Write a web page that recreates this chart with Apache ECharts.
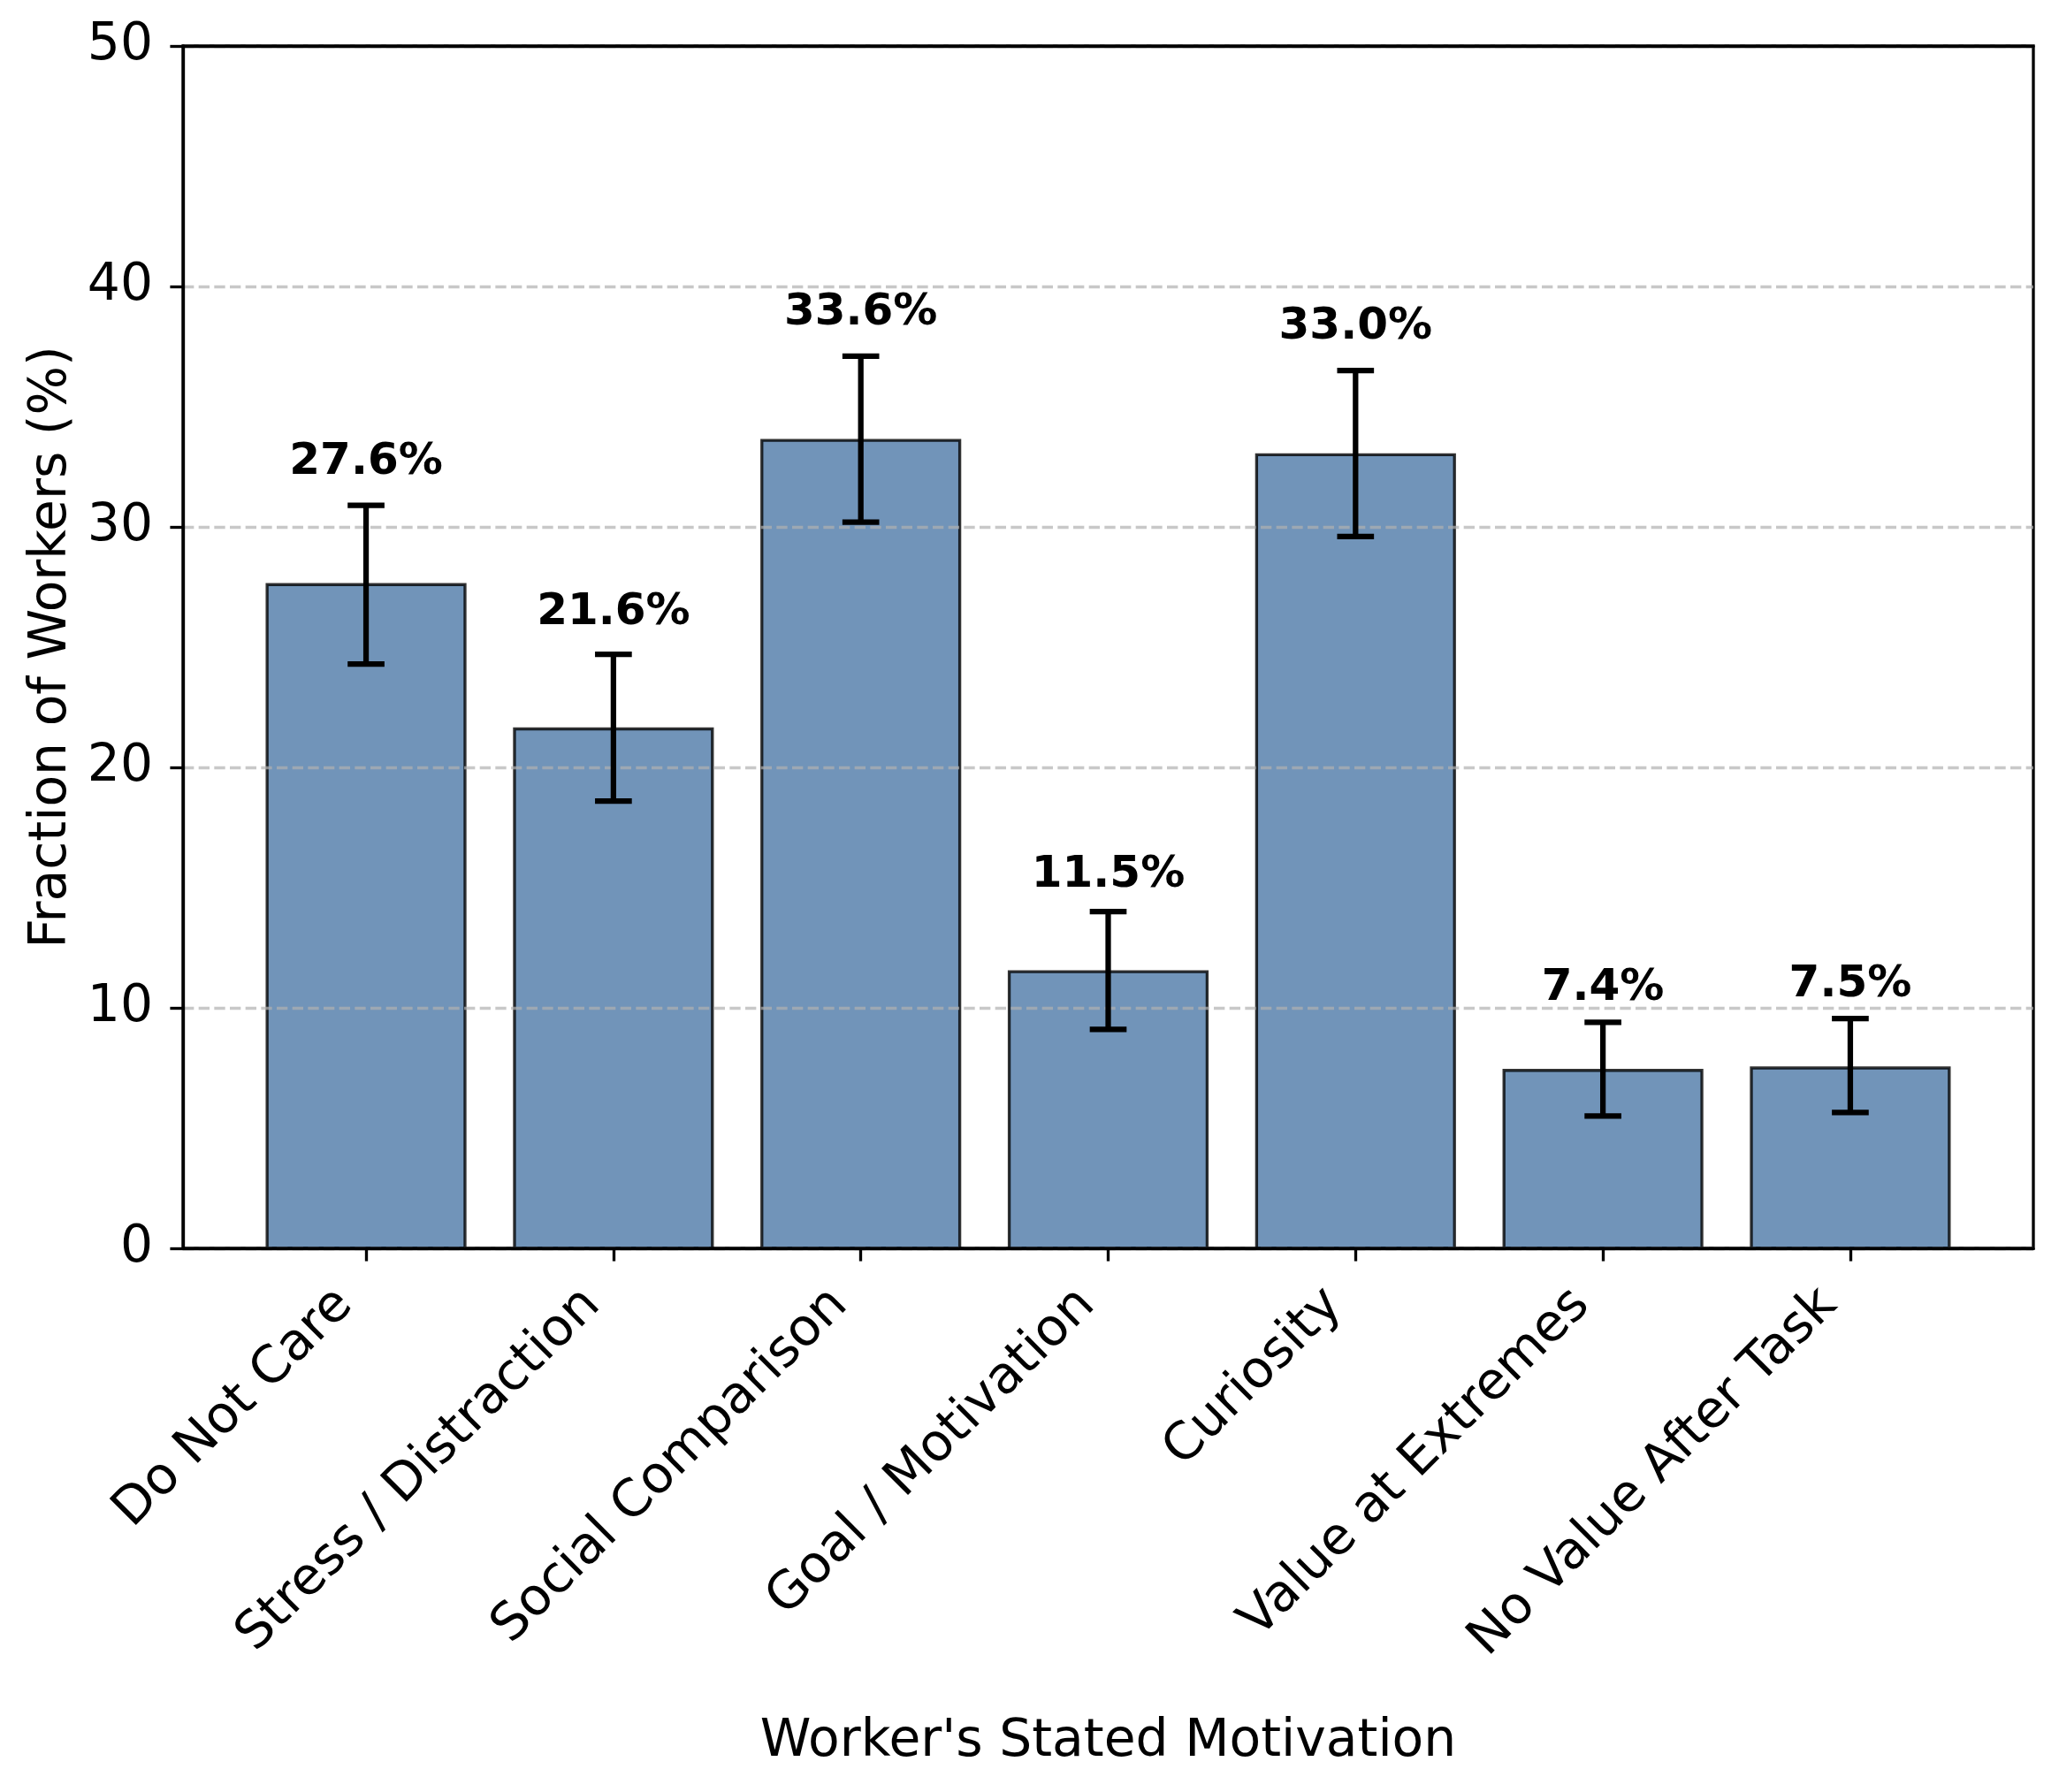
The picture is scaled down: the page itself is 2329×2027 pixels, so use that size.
<!DOCTYPE html>
<html>
<head>
<meta charset="utf-8">
<script src="https://cdn.jsdelivr.net/npm/echarts@6/dist/echarts.min.js"></script>
<style>
html,body{margin:0;padding:0;background:#ffffff;}
#chart{width:2329px;height:2027px;}
</style>
</head>
<body>
<div id="chart"></div>
<script>
// ---- data ----
const categories = ['Do Not Care', 'Stress / Distraction', 'Social Comparison', 'Goal / Motivation', 'Curiosity', 'Value at Extremes', 'No Value After Task'];
const values = [27.6, 21.6, 33.6, 11.5, 33.0, 7.4, 7.5];
const errLow = [24.3, 18.6, 30.2, 9.1, 29.6, 5.5, 5.65];
const errHigh = [30.9, 24.7, 37.1, 14.0, 36.5, 9.4, 9.55];
const yTicks = [0, 10, 20, 30, 40, 50];
const xTickIdx = categories.map((c, i) => i);

// ---- styling ----
const FONT = 'DejaVu Sans';
const PX = 300 / 72;

const chart = echarts.init(document.getElementById('chart'), null, {renderer: 'canvas', width: 2329, height: 2027});

const barData = values.map((v, i) => [i, v]);
const errData = values.map((v, i) => [i, errLow[i], errHigh[i], v]);

// pixel gap between the top of an error bar and its value label
function labelGap(high) {
  const t = Math.max(0, Math.min(1, (37 - high) / 27.6));
  return 24 - 11 * t * t;
}

const spine = {color: '#000000', width: 0.8 * PX};

const option = {
  animation: false,
  backgroundColor: '#ffffff',
  grid: {
    left: 207, right: 29, top: 52, bottom: 615,
    show: true, borderColor: '#000000', borderWidth: 0.8 * PX, backgroundColor: 'transparent'
  },
  xAxis: [{
    type: 'value',
    min: -0.74, max: 6.74,
    z: 3,
    name: "Worker's Stated Motivation",
    nameLocation: 'middle',
    nameGap: 530,
    nameTextStyle: {fontFamily: FONT, fontSize: 14 * PX, color: '#000000'},
    axisLine: {show: true, onZero: false, lineStyle: spine},
    axisTick: {show: true, customValues: xTickIdx, length: 3.5 * PX, lineStyle: spine},
    axisLabel: {
      show: true,
      customValues: xTickIdx,
      rotate: 45,
      margin: 7 * PX + 2,
      padding: [0, 34, 0, 0],
      formatter: function (v) { return categories[Math.round(v)]; },
      fontFamily: FONT, fontSize: 14 * PX, color: '#000000'
    },
    splitLine: {show: false}
  }, {
    type: 'value',
    position: 'top',
    min: -0.74, max: 6.74,
    z: 6,
    axisLine: {show: true, onZero: false, lineStyle: spine},
    axisTick: {show: false},
    axisLabel: {show: false},
    splitLine: {show: false}
  }],
  yAxis: [{
    type: 'value',
    min: 0, max: 50, interval: 10,
    z: 3,
    name: 'Fraction of Workers (%)',
    nameLocation: 'middle',
    nameRotate: 90,
    nameGap: 118,
    nameTextStyle: {fontFamily: FONT, fontSize: 14 * PX, color: '#000000'},
    axisLine: {show: true, onZero: false, lineStyle: spine},
    axisTick: {show: true, length: 3.5 * PX, lineStyle: spine},
    axisLabel: {
      margin: 34,
      formatter: function (v) { return yTicks.indexOf(v) >= 0 ? String(v) : ''; },
      fontFamily: FONT, fontSize: 14 * PX, color: '#000000'
    },
    splitLine: {
      show: true,
      lineStyle: {color: 'rgba(176,176,176,0.7)', width: 0.8 * PX, type: [3.7 * 0.8 * PX, 1.6 * 0.8 * PX]}
    }
  }],
  series: [
    {
      type: 'custom',
      name: 'bars',
      z: 2,
      data: barData,
      encode: {x: 0, y: 1},
      renderItem: function (params, api) {
        const i = api.value(0), v = api.value(1);
        const p0 = api.coord([i - 0.4, v]);
        const p1 = api.coord([i + 0.4, 0]);
        return {
          type: 'rect',
          shape: {x: p0[0], y: p0[1], width: p1[0] - p0[0], height: p1[1] - p0[1]},
          style: {fill: 'rgba(78,121,167,0.8)', stroke: 'rgba(0,0,0,0.8)', lineWidth: 0.8 * PX}
        };
      }
    },
    {
      type: 'custom',
      name: 'errors',
      z: 5,
      data: errData,
      encode: {x: 0, y: [1, 2]},
      renderItem: function (params, api) {
        const i = api.value(0);
        const lo = api.coord([i, api.value(1)]);
        const hi = api.coord([i, api.value(2)]);
        const v = api.value(3);
        const cap = 5 * PX;
        const lw = 1.5 * PX;
        const st = {stroke: '#000000', lineWidth: lw};
        return {
          type: 'group',
          children: [
            {type: 'line', shape: {x1: lo[0], y1: lo[1], x2: hi[0], y2: hi[1]}, style: st},
            {type: 'line', shape: {x1: hi[0] - cap, y1: hi[1], x2: hi[0] + cap, y2: hi[1]}, style: st},
            {type: 'line', shape: {x1: lo[0] - cap, y1: lo[1], x2: lo[0] + cap, y2: lo[1]}, style: st},
            {
              type: 'text',
              x: hi[0], y: hi[1] - labelGap(api.value(2)),
              style: {
                text: v.toFixed(1) + '%',
                fontFamily: FONT, fontWeight: 'bold', fontSize: 12 * PX,
                fill: '#000000', align: 'center', verticalAlign: 'bottom'
              }
            }
          ]
        };
      }
    }
  ]
};

chart.setOption(option);
</script>
</body>
</html>
